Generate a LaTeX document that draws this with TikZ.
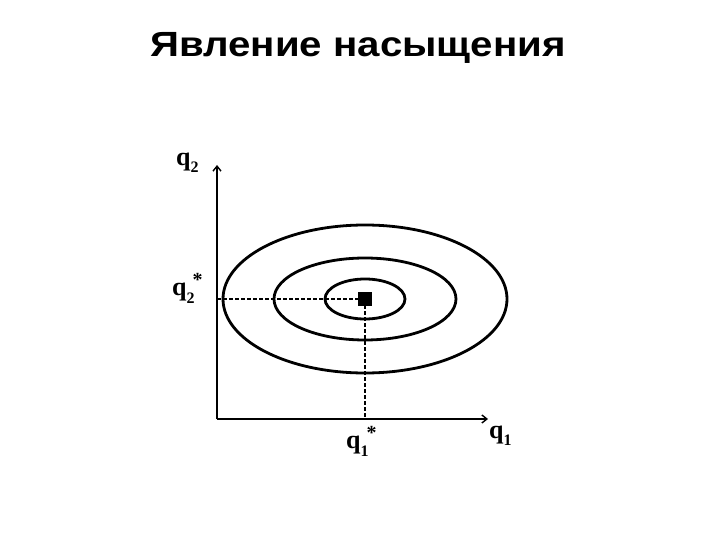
\documentclass[tikz,border=0pt]{standalone}
\usepackage{fontspec}
\setmainfont{Liberation Sans}
\newfontfamily\lblfont{Liberation Serif}
\usetikzlibrary{shapes.geometric,arrows.meta}
\newcommand\qsub[1]{q\raisebox{-7pt}{\fontsize{16}{16}\selectfont #1}}
\newcommand\qstar[1]{q\rlap{\raisebox{-8pt}{\fontsize{16}{16}\selectfont #1}}\hspace{6pt}\raisebox{9pt}{\fontsize{20}{20}\selectfont *}}
\tikzset{
  axis/.style={line width=1.8pt,-{Straight Barb[length=5pt,width=8pt,line width=1.4pt]}},
  oval/.style={ellipse,draw,line width=2.8pt,inner sep=0pt},
  guide/.style={line width=1.8pt,dash pattern=on 4pt off 2pt},
  lbl/.style={font=\lblfont\bfseries\fontsize{26}{28}\selectfont,inner sep=0pt}
}
\begin{document}
\begin{tikzpicture}[x=1pt,y=-1pt]
\useasboundingbox (0,0) rectangle (720,540);
\node[font=\bfseries\fontsize{35}{40}\selectfont,anchor=base] (title) at (358,57) {\scalebox{1.15}[1]{Явление насыщения}};
\coordinate (O) at (217,419);
\coordinate (ytop) at (217,165);
\coordinate (xend) at (488,419);
\coordinate (c) at (365,299);
\coordinate (q2s) at (217,299);
\coordinate (q1s) at (365,419);
\draw[axis] (O) -- (ytop);
\draw[axis] (O) -- (xend);
\node[oval,minimum width=284,minimum height=148] (e1) at (c) {};
\node[oval,minimum width=182,minimum height=82] (e2) at (c) {};
\node[oval,minimum width=80,minimum height=40] (e3) at (c) {};
\draw[guide] (q2s) -- (c);
\draw[guide] (c) -- (q1s);
\node[fill=black,minimum size=14pt,inner sep=0pt] (pt) at (c) {};
\node[lbl,anchor=base west] (lq2) at (176,166) {\qsub{2}};
\node[lbl,anchor=base west] (lq1) at (489,438) {\qsub{1}};
\node[lbl,anchor=base west] (lq2s) at (172,295) {\qstar{2}};
\node[lbl,anchor=base west] (lq1s) at (346,448) {\qstar{1}};
\end{tikzpicture}
\end{document}
